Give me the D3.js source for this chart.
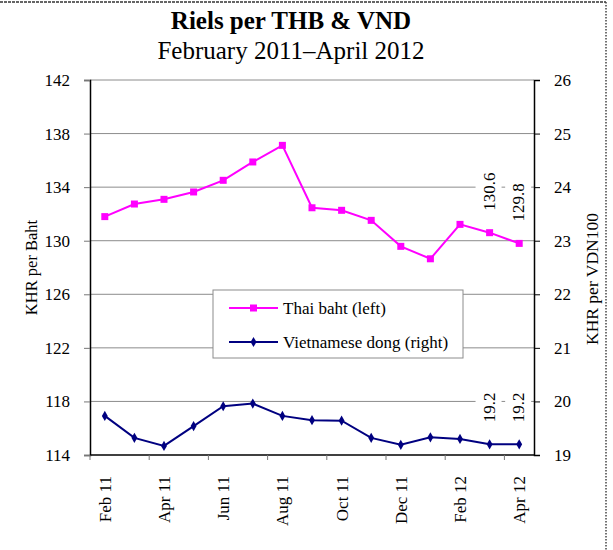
<!DOCTYPE html>
<html>
<head>
<meta charset="utf-8">
<script src="https://cdn.jsdelivr.net/npm/d3@7"></script>
<style>
  body { margin: 0; background: #fff; }
  svg text { font-family: "Liberation Serif", "Times New Roman", serif; }
</style>
</head>
<body>
<svg id="chart" width="613" height="550"></svg>
<script>
// Data
const months = ['Feb 11', 'Mar 11', 'Apr 11', 'May 11', 'Jun 11', 'Jul 11', 'Aug 11',
  'Sep 11', 'Oct 11', 'Nov 11', 'Dec 11', 'Jan 12', 'Feb 12', 'Mar 12', 'Apr 12'];
const bahtValues = [131.8, 132.74, 133.09, 133.64, 134.51, 135.88, 137.12,
  132.46, 132.27, 131.52, 129.58, 128.65, 131.22, 130.6, 129.8];
const dongValues = [19.73, 19.32, 19.17, 19.54, 19.91, 19.96, 19.73,
  19.65, 19.64, 19.32, 19.19, 19.33, 19.30, 19.2, 19.2];
const leftTicks = [114, 118, 122, 126, 130, 134, 138, 142];
const rightTicks = [19, 20, 21, 22, 23, 24, 25, 26];
const labelledMonths = ['Mar 12', 'Apr 12'];

const plot = { left: 90, right: 534, top: 80, bottom: 455 };
const pink = '#ff00ff';
const navy = '#000080';
const serif = 'Liberation Serif';

const svg = d3.select('#chart').attr('font-family', serif);

// Page border (dashed top, dotted right)
svg.append('line')
  .attr('x1', 0).attr('x2', 606).attr('y1', 2).attr('y2', 2)
  .attr('stroke', '#333').attr('stroke-width', 1.5).attr('stroke-dasharray', '3,1');
svg.append('line')
  .attr('x1', 606).attr('x2', 606).attr('y1', 2).attr('y2', 550)
  .attr('stroke', '#444').attr('stroke-width', 1.5).attr('stroke-dasharray', '1.5,1.5');

// Titles
svg.append('text')
  .attr('x', 291).attr('y', 29)
  .attr('text-anchor', 'middle')
  .attr('font-size', 25).attr('font-weight', 'bold')
  .text('Riels per THB & VND');
svg.append('text')
  .attr('x', 291).attr('y', 59)
  .attr('text-anchor', 'middle')
  .attr('font-size', 25)
  .text('February 2011\u2013April 2012');

// Scales
const x = d3.scaleBand()
  .domain(months)
  .range([plot.left, plot.right])
  .padding(0);
const xc = d => x(d) + x.bandwidth() / 2;
const yLeft = d3.scaleLinear().domain([114, 142]).range([plot.bottom, plot.top]);
const yRight = d3.scaleLinear().domain([19, 26]).range([plot.bottom, plot.top]);

// Gridlines
svg.append('g').selectAll('line')
  .data(leftTicks.filter(d => d !== 114))
  .join('line')
  .attr('x1', plot.left).attr('x2', plot.right)
  .attr('y1', d => yLeft(d)).attr('y2', d => yLeft(d))
  .attr('stroke', '#8c8c8c').attr('stroke-width', 1);

// Left axis
const leftAxis = svg.append('g')
  .attr('transform', `translate(${plot.left},0)`)
  .call(d3.axisLeft(yLeft).tickValues(leftTicks).tickSize(6).tickPadding(14).tickFormat(d3.format('d')))
  .attr('font-family', serif);
leftAxis.select('.domain').attr('stroke', '#000').attr('stroke-width', 1.5);
leftAxis.selectAll('.tick line').attr('stroke', '#777');
leftAxis.selectAll('.tick text')
  .attr('font-size', 17).attr('fill', '#000');

// Right axis
const rightAxis = svg.append('g')
  .attr('transform', `translate(${plot.right},0)`)
  .call(d3.axisRight(yRight).tickValues(rightTicks).tickSize(6).tickPadding(14).tickFormat(d3.format('d')))
  .attr('font-family', serif);
rightAxis.select('.domain').attr('stroke', '#000').attr('stroke-width', 1.5);
rightAxis.selectAll('.tick line').attr('stroke', '#000');
rightAxis.selectAll('.tick text')
  .attr('font-size', 17).attr('fill', '#000');

// Bottom axis: ticks every other category boundary, labels every other category
svg.append('line')
  .attr('x1', plot.left).attr('x2', plot.right)
  .attr('y1', plot.bottom).attr('y2', plot.bottom)
  .attr('stroke', '#000').attr('stroke-width', 1.5);
svg.append('g').selectAll('line')
  .data(months.filter((d, i) => i % 2 === 0))
  .join('line')
  .attr('x1', d => x(d)).attr('x2', d => x(d))
  .attr('y1', plot.bottom).attr('y2', plot.bottom + 5)
  .attr('stroke', '#777');
svg.append('g').selectAll('text')
  .data(months.filter((d, i) => i % 2 === 0))
  .join('text')
  .attr('transform', d => `translate(${xc(d)},${plot.bottom + 21}) rotate(-90)`)
  .attr('text-anchor', 'end')
  .attr('dy', '0.35em')
  .attr('font-size', 17)
  .text(d => d);

// Axis titles
svg.append('text')
  .attr('transform', `translate(31,${(plot.top + plot.bottom) / 2}) rotate(-90)`)
  .attr('text-anchor', 'middle')
  .attr('dy', '0.35em')
  .attr('font-size', 16.5)
  .text('KHR per Baht');
svg.append('text')
  .attr('transform', `translate(592,279) rotate(-90)`)
  .attr('text-anchor', 'middle')
  .attr('dy', '0.35em')
  .attr('font-size', 17.5)
  .text('KHR per VDN100');

// Series
const bahtLine = d3.line().x((d, i) => xc(months[i])).y(d => yLeft(d));
const dongLine = d3.line().x((d, i) => xc(months[i])).y(d => yRight(d));

svg.append('path')
  .datum(bahtValues)
  .attr('d', bahtLine)
  .attr('fill', 'none').attr('stroke', pink).attr('stroke-width', 2);
svg.append('g').selectAll('rect')
  .data(bahtValues)
  .join('rect')
  .attr('x', (d, i) => xc(months[i]) - 3.5)
  .attr('y', d => yLeft(d) - 3.5)
  .attr('width', 7).attr('height', 7)
  .attr('fill', pink);

svg.append('path')
  .datum(dongValues)
  .attr('d', dongLine)
  .attr('fill', 'none').attr('stroke', navy).attr('stroke-width', 2);
svg.append('g').selectAll('path')
  .data(dongValues)
  .join('path')
  .attr('d', d3.symbol(d3.symbolDiamond, 30))
  .attr('transform', (d, i) => `translate(${xc(months[i])},${yRight(d)})`)
  .attr('fill', navy);

// Data labels for the last two months
function addLabel(month, value, yScale) {
  const g = svg.append('g')
    .attr('transform', `translate(${xc(month) - 1},${yScale(value) - 22}) rotate(-90)`);
  const t = g.append('text')
    .attr('text-anchor', 'start')
    .attr('dy', '0.35em')
    .attr('font-size', 17)
    .text(value.toFixed(1));
  const b = t.node().getBBox();
  g.insert('rect', 'text')
    .attr('x', b.x - 2).attr('y', b.y - 4)
    .attr('width', b.width + 4).attr('height', b.height + 7)
    .attr('fill', '#fff');
}
labelledMonths.forEach(m => {
  const i = months.indexOf(m);
  addLabel(m, bahtValues[i], yLeft);
  addLabel(m, dongValues[i], yRight);
});

// Legend
const legend = svg.append('g').attr('transform', 'translate(213,290)');
legend.append('rect')
  .attr('width', 250).attr('height', 68)
  .attr('fill', '#fff').attr('stroke', '#8c8c8c');
const legendItems = [
  { name: 'Thai baht (left)', color: pink, marker: 'square' },
  { name: 'Vietnamese dong (right)', color: navy, marker: 'diamond' }
];
legendItems.forEach((item, i) => {
  const y = 18 + i * 34;
  legend.append('line')
    .attr('x1', 16).attr('x2', 65).attr('y1', y).attr('y2', y)
    .attr('stroke', item.color).attr('stroke-width', 2);
  if (item.marker === 'square') {
    legend.append('rect')
      .attr('x', 37).attr('y', y - 3.5).attr('width', 7).attr('height', 7)
      .attr('fill', item.color);
  } else {
    legend.append('path')
      .attr('d', d3.symbol(d3.symbolDiamond, 30))
      .attr('transform', `translate(40.5,${y})`)
      .attr('fill', item.color);
  }
  legend.append('text')
    .attr('x', 70).attr('y', y)
    .attr('dy', '0.35em')
    .attr('font-size', 17)
    .text(item.name);
});
</script>
</body>
</html>
